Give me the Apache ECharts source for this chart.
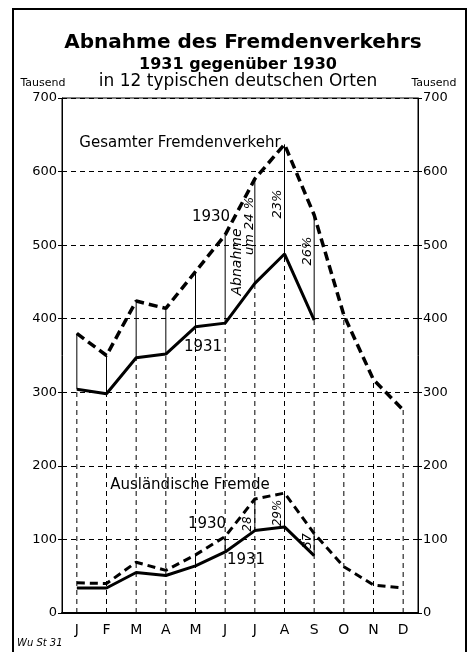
<!DOCTYPE html>
<html><head><meta charset="utf-8">
<script src="https://cdn.jsdelivr.net/npm/echarts@6/dist/echarts.min.js"></script>
<style>html,body{margin:0;padding:0;background:#fff}#c{width:470px;height:652px}</style>
</head><body><div id="c"></div>
<script>
const months = ['J','F','M','A','M','J','J','A','S','O','N','D'];
const total1930 = [380, 350, 424, 414, 464, 514, 590, 637, 541, 405, 317, 276];
const total1931 = [304, 298, 347, 352, 389, 394, 448, 488, 398];
const foreign1930 = [41, 40, 69, 58, 79, 104, 155, 163, 108, 63, 38, 34];
const foreign1931 = [34, 34, 55, 51, 64, 83, 112, 117, 78];
const foreignLinkMonths = [4, 5, 6, 7, 8];
const yTicks = [0, 100, 200, 300, 400, 500, 600, 700];

const FONT = '"DejaVu Sans", "Noto Sans", sans-serif';
const chart = echarts.init(document.getElementById('c'), null, {renderer: 'canvas'});

function verticals(params, api) {
  const i = api.value(0);
  const children = [];
  const lower = i < total1931.length ? total1931[i] : total1930[i];
  const p0 = api.coord([i, 0]);
  const p1 = api.coord([i, lower]);
  children.push({type: 'line', shape: {x1: p0[0], y1: p0[1], x2: p1[0], y2: p1[1]},
    style: {stroke: '#000', lineWidth: 1, lineDash: [5, 4]}});
  if (i < total1931.length) {
    const a = api.coord([i, total1931[i]]);
    const b = api.coord([i, total1930[i]]);
    children.push({type: 'line', shape: {x1: a[0], y1: a[1], x2: b[0], y2: b[1]},
      style: {stroke: '#000', lineWidth: 1}});
  }
  if (foreignLinkMonths.indexOf(i) >= 0) {
    const a = api.coord([i, foreign1931[i]]);
    const b = api.coord([i, foreign1930[i]]);
    children.push({type: 'line', shape: {x1: a[0], y1: a[1], x2: b[0], y2: b[1]},
      style: {stroke: '#000', lineWidth: 1}});
  }
  return {type: 'group', children};
}

function txt(text, x, y, size, opts) {
  opts = opts || {};
  return {
    type: 'text', x: x, y: y, rotation: opts.rot || 0, z: 100,
    style: {
      text: text, fill: '#000',
      font: (opts.style || 'normal') + ' ' + (opts.weight || 'normal') + ' ' + size + 'px ' + FONT,
      textAlign: opts.align || 'center', textVerticalAlign: 'middle',
      align: opts.align || 'center', verticalAlign: 'middle'
    }
  };
}

const axisLabelStyle = {color: '#000', fontSize: 13, fontFamily: FONT};

chart.setOption({
  animation: false,
  backgroundColor: '#fff',
  grid: {left: 62, right: 52, top: 98, bottom: 39, show: true, borderColor: '#000', borderWidth: 1, backgroundColor: 'transparent'},
  xAxis: {
    type: 'category', data: months, boundaryGap: true,
    axisLine: {show: true, lineStyle: {color: '#000', width: 2}},
    axisTick: {show: false},
    axisLabel: {color: '#000', fontSize: 14, fontFamily: FONT, margin: 10},
    splitLine: {show: false}
  },
  yAxis: [
    {type: 'value', min: 0, max: 700, interval: 100, position: 'left',
      axisLine: {show: true, lineStyle: {color: '#000', width: 1}},
      axisTick: {show: true, length: 4, lineStyle: {color: '#000'}},
      axisLabel: Object.assign({margin: 5}, axisLabelStyle),
      splitLine: {show: true, lineStyle: {color: '#000', width: 1, type: [5, 4]}}},
    {type: 'value', min: 0, max: 700, interval: 100, position: 'right',
      axisLine: {show: true, lineStyle: {color: '#000', width: 1}},
      axisTick: {show: true, length: 4, lineStyle: {color: '#000'}},
      axisLabel: Object.assign({margin: 5}, axisLabelStyle),
      splitLine: {show: false}}
  ],
  series: [
    {type: 'custom', renderItem: verticals, data: months.map((m, i) => [i, 0]), encode: {x: 0, y: 1}, z: 1, silent: true},
    {type: 'line', name: 'Gesamt 1930', data: total1930, showSymbol: false, z: 5,
      lineStyle: {color: '#000', width: 3.5, type: [9, 5]}},
    {type: 'line', name: 'Gesamt 1931', data: total1931, showSymbol: false, z: 5,
      lineStyle: {color: '#000', width: 3}},
    {type: 'line', name: 'Ausland 1930', data: foreign1930, showSymbol: false, z: 5,
      lineStyle: {color: '#000', width: 3, type: [8, 5]}},
    {type: 'line', name: 'Ausland 1931', data: foreign1931, showSymbol: false, z: 5,
      lineStyle: {color: '#000', width: 3}}
  ],
  graphic: [
    {type: 'rect', shape: {x: 13, y: 9, width: 453, height: 700}, style: {fill: 'none', stroke: '#000', lineWidth: 2}, z: 100},
    txt('Abnahme des Fremdenverkehrs', 243, 43, 20, {weight: 'bold'}),
    txt('1931 gegenüber 1930', 238, 65, 16, {weight: 'bold'}),
    txt('in 12 typischen deutschen Orten', 238, 82, 17),
    txt('Tausend', 43, 83, 11),
    txt('Tausend', 434, 83, 11),
    txt('Gesamter Fremdenverkehr', 180, 143, 15),
    txt('1930', 211, 217, 15),
    txt('1931', 203, 347, 15),
    txt('Abnahme', 237, 262, 14, {rot: Math.PI / 2, style: 'italic'}),
    txt('um 24 %', 250, 226, 13, {rot: Math.PI / 2, style: 'italic'}),
    txt('23%', 278, 204, 13, {rot: Math.PI / 2, style: 'italic'}),
    txt('26%', 308, 251, 13, {rot: Math.PI / 2, style: 'italic'}),
    txt('Ausländische Fremde', 190, 485, 15),
    txt('1930', 207, 524, 15),
    txt('1931', 246, 560, 15),
    txt('28', 248, 524, 12, {rot: Math.PI / 2, style: 'italic'}),
    txt('29%', 278, 513, 12, {rot: Math.PI / 2, style: 'italic'}),
    txt('37', 308, 541, 12, {rot: Math.PI / 2, style: 'italic'}),
    txt('Wu St 31', 17, 643, 10, {align: 'left', style: 'italic'})
  ]
});
</script>
</body></html>
